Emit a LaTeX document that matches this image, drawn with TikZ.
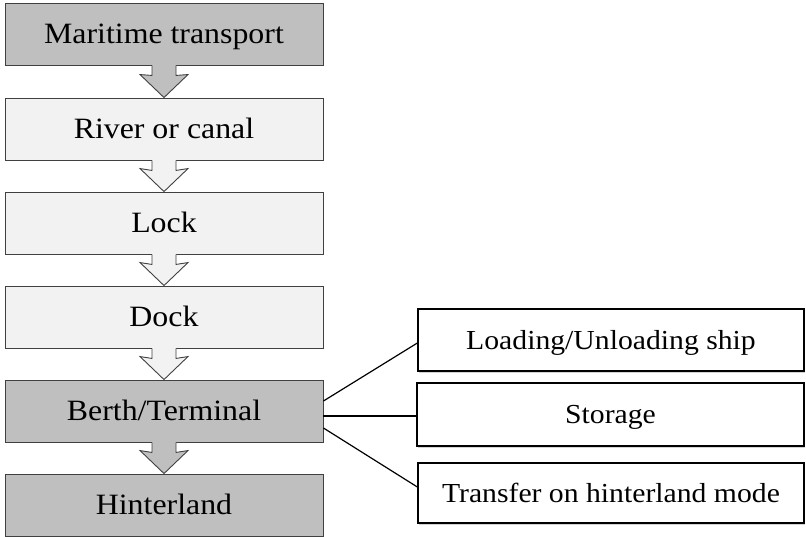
\documentclass[tikz,border=0pt]{standalone}
\usepackage{fontspec}
\setmainfont{Liberation Serif}[FakeStretch=1.08]
\usetikzlibrary{shadows}
\definecolor{darkfill}{HTML}{BFBFBF}
\definecolor{lightfill}{HTML}{F2F2F2}
\definecolor{edge}{HTML}{404040}
\tikzset{
  leftbox/.style={draw=edge, line width=0.9pt, minimum width=318pt, minimum height=62pt,
    inner sep=0pt, font=\fontsize{29.5}{32}\selectfont, text height=19.5pt, text depth=0pt},
  rightbox/.style={draw=black, line width=1.3pt, fill=white, inner sep=0pt,
    font=\fontsize{27.5}{30}\selectfont, text height=18pt, text depth=0pt,
    drop shadow={opacity=0.35, shadow xshift=1.2pt, shadow yshift=-1.5pt}},
  link/.style={draw=black, line width=1.2pt},
  arrowedge/.style={draw=edge, line width=0.9pt, line join=miter}
}
\newcommand{\flowarrow}[3]{%
  \fill[#3] ([xshift=-12pt,yshift=1pt]#1.south) -- ([xshift=-12pt,yshift=-10pt]#1.south)
    -- ([xshift=-24pt,yshift=23pt]#2.north) -- (#2.north)
    -- ([xshift=24pt,yshift=23pt]#2.north) -- ([xshift=12pt,yshift=-10pt]#1.south)
    -- ([xshift=12pt,yshift=1pt]#1.south) -- cycle;
  \draw[arrowedge] ([xshift=-12pt]#1.south) -- ([xshift=-12pt,yshift=-10pt]#1.south)
    -- ([xshift=-24pt,yshift=23pt]#2.north) -- (#2.north)
    -- ([xshift=24pt,yshift=23pt]#2.north) -- ([xshift=12pt,yshift=-10pt]#1.south)
    -- ([xshift=12pt]#1.south);
}
\begin{document}
\begin{tikzpicture}[x=1pt, y=-1pt]
\useasboundingbox (0,0) rectangle (806,537);
\node[leftbox, fill=darkfill]  (mar) at (164,34)  {Maritime transport};
\node[leftbox, fill=lightfill] (riv) at (164,129) {River or canal};
\node[leftbox, fill=lightfill] (lock) at (164,223) {Lock};
\node[leftbox, fill=lightfill] (dock) at (164,317) {Dock};
\node[leftbox, fill=darkfill]  (berth) at (164,411) {Berth/Terminal};
\node[leftbox, fill=darkfill]  (hint) at (164,505) {Hinterland};
\flowarrow{mar}{riv}{darkfill}
\flowarrow{riv}{lock}{lightfill}
\flowarrow{lock}{dock}{lightfill}
\flowarrow{dock}{berth}{lightfill}
\flowarrow{berth}{hint}{darkfill}
\node[rightbox, minimum width=386pt, minimum height=62pt] (load) at (611,340) {Loading/Unloading ship};
\node[rightbox, minimum width=387pt, minimum height=63pt] (stor) at (610.5,414.5) {Storage};
\node[rightbox, minimum width=386pt, minimum height=60pt] (trans) at (611,493) {Transfer on hinterland mode};
\draw[link] ([yshift=10pt]berth.east) -- ([yshift=-3pt]load.west);
\draw[link] ([yshift=-5pt]berth.east) -- ([yshift=-1.5pt]stor.west);
\draw[link] ([yshift=-17pt]berth.east) -- ([yshift=6pt]trans.west);
\end{tikzpicture}
\end{document}
